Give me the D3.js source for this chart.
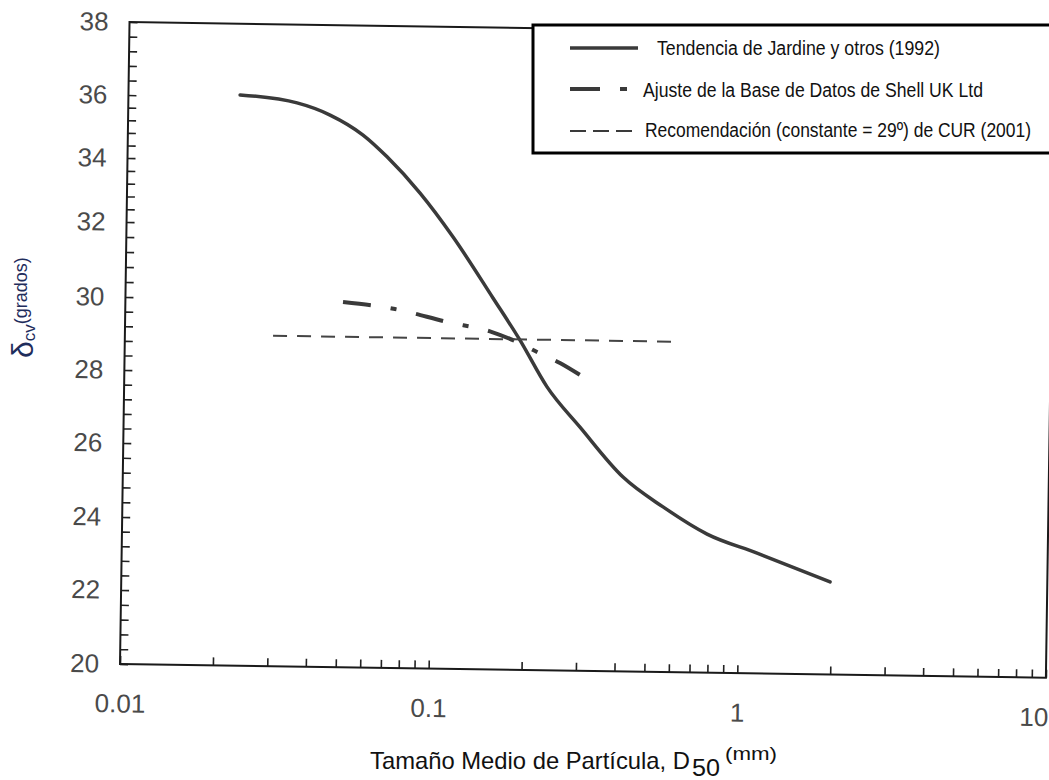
<!DOCTYPE html>
<html>
<head>
<meta charset="utf-8">
<script src="https://cdn.jsdelivr.net/npm/d3@7"></script>
<style>
  html, body { margin: 0; padding: 0; background: #fff; }
  svg { display: block; font-family: "Liberation Sans", Arial, sans-serif; }
</style>
</head>
<body>
<svg id="chart" width="1049" height="780"></svg>
<script>
// ---- data ----
const jardineD50   = [0.0230, 0.0352, 0.0451, 0.0578, 0.0693, 0.0890, 0.1144, 0.1551, 0.1906, 0.2344, 0.3011, 0.4173, 0.5643, 0.7861, 1.144, 1.978];
const jardineDelta = [36.05, 35.83, 35.46, 34.84, 34.16, 33.04, 31.73, 30.12, 28.98, 27.71, 26.62, 25.28, 24.49, 23.77, 23.27, 22.51];

const shellD50   = [0.0507, 0.0748, 0.1104, 0.1546, 0.1865, 0.2167, 0.2575, 0.2994];
const shellDelta = [29.95, 29.78, 29.45, 29.19, 28.93, 28.66, 28.37, 28.05];

const curD50   = [0.0302, 0.597];
const curDelta = [29, 29];

const xTickLabels = [0.01, 0.1, 1, 10];
const yTickLabels = [20, 22, 24, 26, 28, 30, 32, 34, 36, 38];

const legendLabels = [
  "Tendencia de Jardine y otros (1992)",
  "Ajuste de la Base de Datos de Shell UK Ltd",
  "Recomendación (constante = 29º) de CUR (2001)"
];
const xTitle = "Tamaño Medio de Partícula, D";
const xTitleSub = "50";
const xTitleSup = "(mm)";

// ---- layout ----
const svg = d3.select("#chart");
const W = 926, H = 642;
const x = d3.scaleLog().domain([0.01, 10]).range([0, W]);
// the scanned original is slightly distorted: piecewise-linear vertical scale
const y = d3.scaleLinear().domain(yTickLabels)
  .range([642, 568, 495, 421, 348, 275, 200, 136, 73, 0]);

// the scanned original is also slightly rotated
const plot = svg.append("g").attr("transform", "translate(120,22) rotate(0.85,0," + H + ")");

// minor ticks
const xMinor = [];
[0.01, 0.1, 1].forEach(d => { for (let k = 1; k <= 9; k++) xMinor.push(d * k); });
xMinor.push(10);
const yMinor = d3.range(0, 46).map(i => 20 + i * 0.4);

const xAxis = d3.axisBottom(x)
  .tickValues(xMinor)
  .tickSizeInner(-8).tickSizeOuter(0).tickPadding(30)
  .tickFormat(d => xTickLabels.some(v => Math.abs(v - d) < 1e-9) ? d3.format("")(d) : "");
const yAxis = d3.axisLeft(y)
  .tickValues(yMinor)
  .tickSizeInner(-8).tickSizeOuter(0).tickPadding(21)
  .tickFormat(d => yTickLabels.some(v => Math.abs(v - d) < 1e-6) ? String(Math.round(d)) : "");

const gx = plot.append("g").attr("transform", "translate(0," + H + ")").call(xAxis);
const gy = plot.append("g").call(yAxis);
[gx, gy].forEach(g => {
  g.select(".domain").remove();
  g.selectAll(".tick line").attr("stroke", "#222").attr("stroke-width", 1.6);
  g.selectAll(".tick text").attr("font-size", 26).attr("fill", "#4a4a4a")
    .attr("font-family", "'Liberation Sans', Arial, sans-serif");
});
// last x label sits slightly inside the frame in the original
gx.selectAll(".tick text").filter(d => Math.abs(d - 10) < 1e-9).attr("dx", -12);

// frame
plot.append("rect").attr("x", 0).attr("y", 0).attr("width", W).attr("height", H)
  .attr("fill", "none").attr("stroke", "#1a1a1a").attr("stroke-width", 2);

const line = d3.line().x(d => x(d[0])).y(d => y(d[1])).curve(d3.curveMonotoneX);

plot.append("path")
  .datum(jardineD50.map((d, i) => [d, jardineDelta[i]]))
  .attr("d", line).attr("fill", "none").attr("stroke", "#3a3a3a")
  .attr("stroke-width", 3.5).attr("stroke-linecap", "round");

plot.append("path")
  .datum(shellD50.map((d, i) => [d, shellDelta[i]]))
  .attr("d", line).attr("fill", "none").attr("stroke", "#3a3a3a")
  .attr("stroke-width", 4).attr("stroke-dasharray", "28,20,6,20");

plot.append("path")
  .datum(curD50.map((d, i) => [d, curDelta[i]]))
  .attr("d", d3.line().x(d => x(d[0])).y(d => y(d[1])))
  .attr("fill", "none").attr("stroke", "#444")
  .attr("stroke-width", 2).attr("stroke-dasharray", "14,10");

// legend
const lg = svg.append("g");
lg.append("rect").attr("x", 533).attr("y", 25).attr("width", 540).attr("height", 128)
  .attr("fill", "#fff").attr("stroke", "#000").attr("stroke-width", 3);
const rows = [
  { ly: 48, tx: 657, ty: 55, tl: 283, dash: null, w: 3.5 },
  { ly: 89, tx: 643, ty: 97, tl: 340, dash: "30,20,7,100", w: 4 },
  { ly: 131, tx: 645, ty: 137, tl: 386, dash: "16,7", w: 2 }
];
rows.forEach((r, i) => {
  lg.append("line").attr("x1", 570).attr("x2", 638).attr("y1", r.ly).attr("y2", r.ly)
    .attr("stroke", "#3a3a3a").attr("stroke-width", r.w)
    .attr("stroke-dasharray", r.dash);
  lg.append("text").attr("x", r.tx).attr("y", r.ty).attr("font-size", 20)
    .attr("fill", "#111").attr("textLength", r.tl).attr("lengthAdjust", "spacingAndGlyphs")
    .text(legendLabels[i]);
});

// x title
svg.append("text").attr("x", 370).attr("y", 769).attr("font-size", 24).attr("fill", "#111")
  .attr("textLength", 320).attr("lengthAdjust", "spacingAndGlyphs").text(xTitle);
svg.append("text").attr("x", 692).attr("y", 776).attr("font-size", 23).attr("fill", "#111")
  .attr("textLength", 28).attr("lengthAdjust", "spacingAndGlyphs").text(xTitleSub);
svg.append("text").attr("x", 725).attr("y", 760).attr("font-size", 19).attr("fill", "#111")
  .attr("textLength", 52).attr("lengthAdjust", "spacingAndGlyphs").text(xTitleSup);

// y title
const yt = svg.append("text").attr("transform", "translate(33,358) rotate(-90)")
  .attr("fill", "#1f2d5c");
yt.append("tspan").attr("font-size", 30).text("δ");
yt.append("tspan").attr("font-size", 17).attr("dy", 2).text("cv");
yt.append("tspan").attr("font-size", 18).attr("dy", -8).text("(grados)");
</script>
</body>
</html>
